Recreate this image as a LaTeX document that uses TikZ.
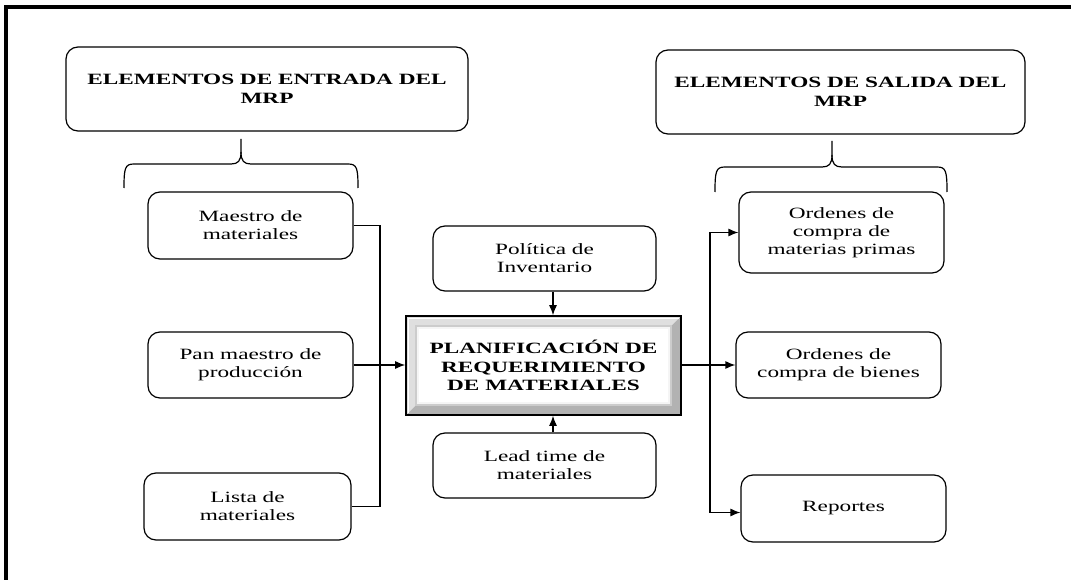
\documentclass[tikz,border=0pt]{standalone}
\usepackage{fontspec}
\setmainfont[FakeStretch=1.48]{Liberation Serif}
\usetikzlibrary{arrows.meta}
\tikzset{
  rbox/.style={draw, rounded corners=12pt, line width=1.2pt, inner sep=0pt, align=center,
    font=\fontsize{15.7}{18}\selectfont},
  headbox/.style={rbox, font=\fontsize{15.7}{19}\selectfont\bfseries},
  conn/.style={line width=1.2pt},
  arr/.style={conn, -{Latex[length=10pt,width=8pt]}},
  bracepath/.style={line width=1.2pt}
}
\begin{document}
\begin{tikzpicture}[x=1pt,y=-1pt]
\useasboundingbox (0,0) rectangle (1071,580);
\fill[white] (0,0) rectangle (1071,580);
% outer frame
\draw[line width=3.2pt] (6,580) -- (6,7) -- (1071,7);

% headings
\node[headbox, minimum width=402pt, minimum height=84pt] (entrada) at (267,89) {ELEMENTOS DE ENTRADA DEL\\MRP};
\node[headbox, minimum width=369pt, minimum height=84pt] (salida) at (840.5,92) {ELEMENTOS DE SALIDA DEL\\MRP};

% braces
\coordinate (lbL) at (124,188);
\coordinate (lbR) at (358,188);
\coordinate (lbT) at (241,139);
\draw[bracepath] (lbL) .. controls (124,168) and (125,164) .. (134,164) -- (231,164)
   .. controls (238,164) and (241,161) .. (241,152) -- (lbT);
\draw[bracepath] (lbR) .. controls (358,168) and (357,164) .. (348,164) -- (251,164)
   .. controls (244,164) and (241,161) .. (241,152);
\coordinate (rbL) at (715,192);
\coordinate (rbR) at (947,192);
\coordinate (rbT) at (832,141);
\draw[bracepath] (rbL) .. controls (715,171) and (716,167) .. (725,167) -- (822,167)
   .. controls (829,167) and (832,164) .. (832,155) -- (rbT);
\draw[bracepath] (rbR) .. controls (947,171) and (946,167) .. (937,167) -- (842,167)
   .. controls (835,167) and (832,164) .. (832,155);

% input boxes
\node[rbox, minimum width=205pt, minimum height=67pt] (maestro) at (250.5,225.5) {Maestro de\\materiales};
\node[rbox, minimum width=205pt, minimum height=66pt] (pan) at (250.5,365) {Pan maestro de\\producción};
\node[rbox, minimum width=207pt, minimum height=67pt] (lista) at (247.5,506.5) {Lista de\\materiales};

% top/bottom boxes
\node[rbox, minimum width=223pt, minimum height=65pt] (politica) at (544.5,258.5) {Política de\\Inventario};
\node[rbox, minimum width=223pt, minimum height=65pt] (lead) at (544.5,465.5) {Lead time de\\materiales};

% output boxes
\node[rbox, minimum width=205pt, minimum height=81pt] (primas) at (841.5,232.5) {Ordenes de\\compra de\\materias primas};
\node[rbox, minimum width=205pt, minimum height=66pt] (bienes) at (838.5,365) {Ordenes de\\compra de bienes};
\node[rbox, minimum width=205pt, minimum height=67pt] (reportes) at (843.5,508.5) {Reportes};

% central bevelled box
\fill[gray!60] (406,316) rectangle (681,415);
\fill[gray!25] (406,316) -- (681,316) -- (672,325) -- (415,325) -- (415,406) -- (406,415) -- cycle;
\fill[gray!8] (415,325) rectangle (672,406);
\fill[white] (419,329) rectangle (668,402);
\draw[gray!40, line width=1.2pt] (416,326) rectangle (671,405);
\draw[white, line width=1pt] (408,318) -- (679,318);
\draw[white, line width=1pt] (408,318) -- (408,413);
\node[draw, line width=1.6pt, minimum width=275pt, minimum height=99pt, inner sep=0pt, align=center,
  font=\fontsize{15.7}{18.5}\selectfont\bfseries] (center) at (543.5,365.5)
  {PLANIFICACIÓN DE\\REQUERIMIENTO\\DE MATERIALES};

% left connectors
\coordinate (jl) at (380,365);
\draw[conn] (maestro.east) -| (jl);
\draw[conn] (lista.east) -| (jl);
\draw[arr] (pan.east) -- (center.west |- pan.east);

% vertical arrows
\coordinate (xa) at (553,0);
\draw[arr] (politica.south -| xa) -- (center.north -| xa);
\draw[arr] (lead.north -| xa) -- (center.south -| xa);

% right connectors
\coordinate (jr) at (710,365);
\draw[arr] (center.east |- bienes.west) -- (bienes.west);
\draw[arr] (jr) |- (primas.west);
\draw[arr] (jr) |- ([yshift=-4pt]reportes.west);
\end{tikzpicture}
\end{document}
